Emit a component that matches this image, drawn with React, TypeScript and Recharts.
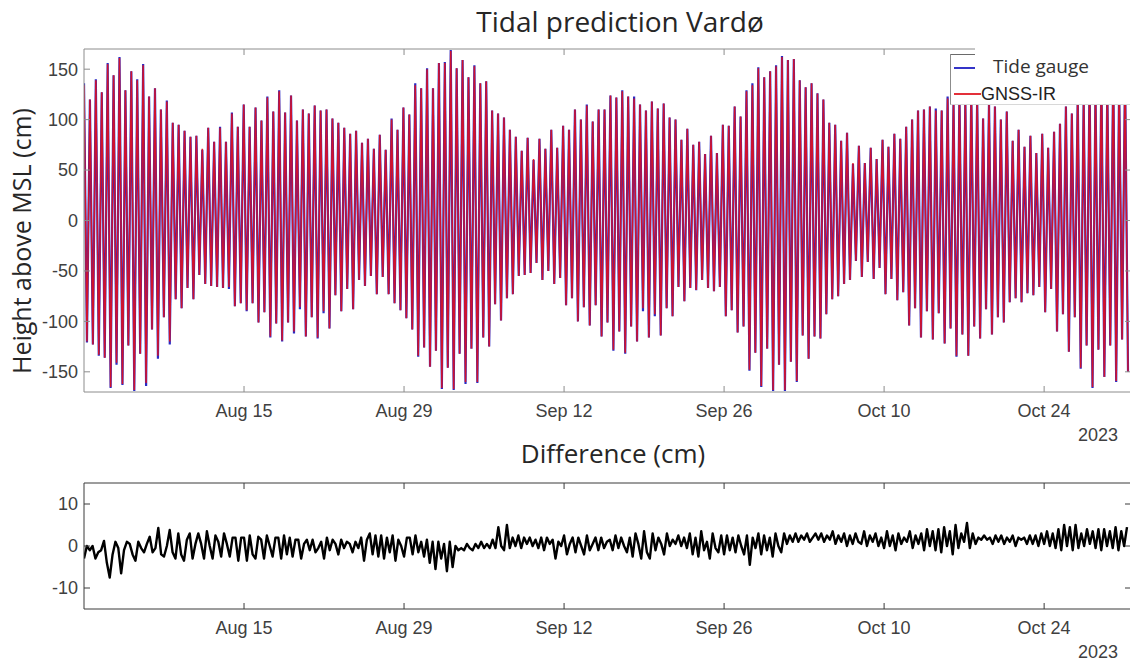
import { Legend, Line, LineChart, XAxis, YAxis } from 'recharts'

// time axis: days since 2023-08-01 00:00
const TIDE_STEP = 0.25875 // days between a high water and the following low water
const DIFF_STEP = 0.25 // difference series sampled every 6 h
const T_MAX = 91.6

const dateTicks = [14, 28, 42, 56, 70, 84]
const dateLabels = ['Aug 15', 'Aug 29', 'Sep 12', 'Sep 26', 'Oct 10', 'Oct 24']
const heightTicks = [-150, -100, -50, 0, 50, 100, 150]
const diffTicks = [-10, 0, 10]

// high / low waters (cm), tide gauge
const tideHigh = [
  136, 120, 140, 127, 156, 144, 162, 129, 148, 140,
  155, 123, 131, 110, 119, 97, 95, 89, 83, 84,
  70, 92, 78, 93, 78, 107, 93, 115, 93, 112,
  99, 123, 108, 129, 107, 124, 99, 110, 106, 114,
  109, 110, 101, 97, 92, 86, 89, 77, 81, 71,
  85, 70, 101, 90, 112, 105, 136, 131, 151, 131,
  156, 157, 169, 151, 159, 142, 154, 136, 138, 109,
  106, 102, 90, 83, 69, 82, 60, 81, 71, 90,
  72, 94, 90, 110, 100, 115, 98, 110, 110, 124,
  122, 129, 123, 123, 115, 109, 118, 111, 116, 102,
  100, 80, 91, 75, 78, 66, 84, 67, 95, 94,
  113, 103, 129, 136, 152, 142, 148, 154, 163, 159,
  160, 139, 132, 136, 126, 120, 97, 95, 79, 87,
  56, 74, 57, 72, 61, 80, 73, 86, 81, 93,
  100, 109, 110, 113, 111, 109, 123, 118, 125, 120,
  128, 122, 101, 117, 113, 100, 108, 79, 90, 73,
  84, 67, 86, 72, 88, 96, 113, 106, 124, 120,
  138, 128, 145, 132, 150, 135, 148,
]
const tideLow = [
  -121, -123, -134, -136, -166, -143, -163, -124, -169, -132,
  -164, -108, -137, -96, -123, -78, -87, -67, -78, -54,
  -63, -65, -66, -67, -68, -85, -82, -90, -82, -101,
  -91, -116, -102, -120, -101, -112, -88, -115, -96, -117,
  -92, -107, -74, -90, -68, -88, -59, -65, -55, -73,
  -56, -73, -82, -89, -97, -108, -135, -126, -145, -129,
  -167, -146, -168, -132, -162, -127, -161, -116, -125, -83,
  -99, -77, -73, -55, -54, -52, -42, -59, -50, -63,
  -57, -84, -77, -100, -86, -104, -84, -115, -101, -129,
  -110, -132, -105, -120, -90, -116, -95, -114, -87, -95,
  -66, -80, -67, -69, -59, -67, -70, -66, -95, -89,
  -111, -105, -149, -131, -165, -127, -169, -143, -169, -140,
  -160, -114, -137, -115, -117, -93, -78, -75, -63, -59,
  -40, -56, -41, -58, -47, -73, -58, -79, -71, -104,
  -87, -116, -90, -118, -92, -122, -107, -135, -113, -134,
  -105, -117, -88, -113, -96, -101, -81, -77, -81, -72,
  -74, -66, -91, -68, -110, -93, -130, -96, -147, -124,
  -166, -128, -155, -124, -160, -118, -150,
]

// high / low waters (cm), GNSS-IR
const gnssHigh = [
  134, 120, 139, 127, 155, 144, 161, 129, 148, 139,
  154, 123, 131, 110, 118, 97, 95, 89, 83, 84,
  71, 92, 78, 92, 78, 106, 93, 115, 93, 112,
  99, 122, 108, 128, 107, 124, 99, 110, 106, 114,
  109, 110, 101, 97, 92, 86, 89, 77, 81, 71,
  85, 70, 100, 90, 112, 105, 134, 131, 150, 131,
  156, 156, 168, 151, 159, 142, 153, 136, 138, 109,
  106, 102, 90, 83, 69, 82, 61, 81, 71, 90,
  72, 94, 90, 110, 100, 114, 98, 110, 110, 124,
  122, 128, 123, 121, 115, 109, 118, 111, 116, 102,
  100, 80, 91, 75, 78, 66, 84, 67, 95, 94,
  113, 103, 128, 134, 151, 142, 148, 153, 162, 159,
  160, 139, 132, 136, 126, 120, 97, 95, 79, 87,
  57, 74, 57, 72, 61, 80, 73, 86, 81, 93,
  100, 109, 110, 113, 109, 109, 121, 118, 125, 120,
  128, 122, 101, 117, 113, 100, 108, 79, 90, 73,
  84, 67, 86, 72, 88, 96, 113, 106, 124, 120,
  138, 128, 145, 132, 150, 135, 148,
]
const gnssLow = [
  -120, -123, -133, -136, -165, -141, -162, -124, -168, -132,
  -161, -108, -134, -96, -120, -78, -87, -67, -78, -54,
  -63, -65, -66, -67, -66, -85, -82, -89, -82, -101,
  -91, -115, -102, -119, -101, -110, -86, -115, -96, -116,
  -90, -107, -74, -90, -68, -88, -59, -65, -55, -73,
  -56, -73, -82, -89, -97, -108, -134, -126, -145, -129,
  -166, -146, -167, -132, -160, -127, -160, -116, -125, -83,
  -99, -77, -73, -55, -54, -52, -42, -59, -50, -63,
  -57, -84, -77, -100, -86, -104, -84, -115, -101, -128,
  -110, -131, -105, -120, -87, -116, -93, -114, -87, -95,
  -66, -80, -67, -69, -59, -67, -70, -66, -95, -89,
  -111, -105, -148, -131, -164, -127, -168, -143, -168, -140,
  -159, -114, -137, -115, -117, -93, -78, -75, -63, -59,
  -40, -56, -41, -58, -47, -73, -58, -79, -71, -104,
  -87, -116, -90, -118, -92, -122, -107, -134, -113, -134,
  -105, -117, -88, -113, -96, -101, -81, -77, -81, -72,
  -74, -66, -91, -68, -110, -93, -130, -96, -146, -124,
  -165, -128, -155, -124, -159, -118, -150,
]

// GNSS-IR minus tide gauge (cm), 4 samples per day
const difference = [
  -3, 0, -1, 0, -3, -1.5, -1, 1.2, -4, -7.5, -2, 1, -0.5, -6.5, -1, 1,
  0.5, -2, -3.5, 1, -0.5, -1.5, 0.5, 2.2, -1.5, -0.5, 4.3, -2, -2.5, 0, 3.8, -1.5,
  -3, 3, -2, -3.5, 1.5, 3, -3, 0.5, 3, 0.5, -3, 3.5, 0, -3, 2.5, 1,
  -2.5, 3, 0.5, -2.5, 2, 2, -3.5, 2, 2, -3.5, 2.5, -2, -3, 2.2, 1.5, -3,
  2.5, 0, -2.5, 2, 2, -3, 2.5, -2, 2, -2.5, 1.5, 1.5, -3, 0.5, 1.5, -1,
  1.5, -1.5, -0.5, 1, -3, 2, -1, 1.5, 0.5, -2, 1.5, -0.5, 1, 0.5, -1.5, 1,
  -0.5, 2, -3.5, 1.5, 3, -2, 2.5, -2.5, 2.5, -3, 2, -1.5, 2.5, -3.5, 1.5, 0,
  -2.5, 2, 2, -2, 2.5, -1.5, 1, -2.5, 1.5, -4, 1, -5.5, 1, -3, 0.5, -6,
  1, -5, 0, -1, -0.5, -1, 0.5, -0.5, -1, 0.5, -0.5, 1, -0.5, 0.5, -0.5, 1.5,
  -0.5, 4.5, 0, -1, 5, -0.5, 2, 0, 2.5, -0.5, 2, 0.5, 2, 0, 1.5, -0.5,
  2, -1, 2, 0.5, 1.5, -3, 1, 0, 2.5, -2, 0.5, 2, -1.5, 2, 0, -2,
  2.5, -1, 0.5, 2, -1, 2, -0.5, 1, 1.5, -1, 2.5, -0.5, 2, 0, -1.5, 2,
  -2.5, 3, 0.5, -3, 3.5, -1.5, -3, 3, -1, 2, 0.5, -2, 3, 0, 1.5, 0.5,
  2.5, 0, 2, -0.5, 3, -2, 2, -2.5, 3.5, -1, 1, -3, 3, -0.5, -1.5, 2.5,
  -2, 2.5, -1, 2, -1.5, 2.5, 0, -2, 2.5, -4.5, 2, -0.5, 3, -2, 2.5, -1,
  2, -2.5, 3, 0, -1.5, 3, 0.5, 2.5, 1, 3, 1, 2.5, 1.5, 3, 1, 2,
  3, 1.5, 3, 1, 2.5, 1.5, 3.5, 0.5, 2.5, 1, 3, 0, 2.5, 0.5, 3, 1,
  0.5, 3.5, 0, 2.5, 1, 3, 0, 2, -0.5, 3.5, 0, 2.5, -1, 3, 0.5, 2,
  1, 3.5, -0.5, 2.5, 0.5, 3, -1, 4, 0, 3.5, -1, 4, -1.5, 4.5, 0, 3.5,
  -2, 5, -0.5, 3, 1, 5.5, -0.5, 3, 0.5, 2, 1.5, 2.5, 1.5, 2, 0.5, 2.5,
  1, 2.5, 0.5, 2, 1, 2.5, 0, 2, 1.5, 2, 0.5, 2.5, 0.5, 2.5, 0, 3,
  0.5, 3.5, 0, 3, -0.5, 4, -1, 5, 0, 4.5, -1, 5, -0.5, 3, 0, 4,
  0.5, 3.5, -0.5, 4, -1, 4, 0, 3.5, -0.5, 4.5, -1, 3.5, 0, 4.5,
]

const tideData = tideHigh.flatMap((high, k) => [
  { t: 2 * k * TIDE_STEP, tide: high, gnss: gnssHigh[k] },
  { t: (2 * k + 1) * TIDE_STEP, tide: tideLow[k], gnss: gnssLow[k] },
])
const diffData = difference.map((d, i) => ({ t: i * DIFF_STEP, diff: d }))

const fmtDate = (v: number) => dateLabels[dateTicks.indexOf(v)] ?? ''
const blank = () => ''

const ARIAL = '"Liberation Sans", Arial, sans-serif'
const OPEN = '"Open Sans", sans-serif'
const tickFont = { fontFamily: ARIAL, fontSize: 18, fill: '#404040' }

function TideLegend() {
  return (
    <div
      style={{
        position: 'relative',
        width: 181,
        height: 51,
        background: '#fff',
        borderLeft: '1px solid #8c8c8c',
        borderBottom: '1px solid #d8d8d8',
        boxSizing: 'border-box',
      }}
    >
      <div style={{ position: 'absolute', left: 0, top: 0, width: 24, height: 1, background: '#6a6a6a' }} />
      <div style={{ position: 'absolute', left: 24, top: -12, width: 160, height: 12, background: '#fff' }} />
      <div style={{ position: 'absolute', left: 3, top: 13, width: 21, height: 2, background: '#3434c8' }} />
      <span style={{ position: 'absolute', left: 42, top: -1, font: `19px/26px ${OPEN}`, color: '#333', whiteSpace: 'nowrap' }}>
        Tide gauge
      </span>
      <div style={{ position: 'absolute', left: 3, top: 39, width: 27, height: 2, background: '#e3303a' }} />
      <span style={{ position: 'absolute', left: 30, top: 30, font: `18px/21px ${ARIAL}`, color: '#222', whiteSpace: 'nowrap' }}>
        GNSS-IR
      </span>
    </div>
  )
}

const abs = (left: number, top: number, extra: object = {}) => ({ position: 'absolute' as const, left, top, ...extra })

// frame axes: bottom/left carry the labels, top/right only inward ticks (box on)
function frameAxes(yDomain: number[], yTicks: number[], color: string) {
  return [
    <XAxis
      key='xb'
      xAxisId='b'
      dataKey='t'
      type='number'
      domain={[0, T_MAX]}
      allowDataOverflow
      ticks={dateTicks}
      interval={0}
      tickFormatter={fmtDate}
      height={30}
      tickSize={-6}
      tickMargin={18}
      stroke={color}
      tick={tickFont}
    />,
    <XAxis
      key='xt'
      xAxisId='top'
      orientation='top'
      dataKey='t'
      type='number'
      domain={[0, T_MAX]}
      allowDataOverflow
      ticks={dateTicks}
      interval={0}
      tickFormatter={blank}
      height={1}
      tickSize={-6}
      stroke={color}
    />,
    <YAxis
      key='yl'
      yAxisId='l'
      type='number'
      domain={yDomain}
      allowDataOverflow
      ticks={yTicks}
      interval={0}
      width={60}
      tickSize={-6}
      tickMargin={12}
      stroke={color}
      tick={tickFont}
    />,
    <YAxis
      key='yr'
      yAxisId='r'
      orientation='right'
      type='number'
      domain={yDomain}
      allowDataOverflow
      ticks={yTicks}
      interval={0}
      tickFormatter={blank}
      width={1}
      tickSize={-6}
      stroke={color}
    />,
  ]
}

export default function App() {
  return (
    <div style={{ position: 'absolute', left: 0, top: 0, width: 1130, height: 661, overflow: 'hidden', background: '#fff' }}>
      <div style={abs(620, 7, { transform: 'translateX(-50%)', font: `28px/28px ${OPEN}`, color: '#262626', whiteSpace: 'nowrap' })}>
        Tidal prediction Vardø
      </div>
      <div
        style={abs(21 - 200, 241 - 15, {
          width: 400,
          height: 30,
          textAlign: 'center',
          transform: 'rotate(-90deg)',
          font: `25px/30px ${OPEN}`,
          color: '#262626',
          whiteSpace: 'nowrap',
        })}
      >
        Height above MSL (cm)
      </div>

      <div style={abs(0, 0)}>
        <LineChart width={1140} height={440} data={tideData} margin={{ top: 48, right: 8, bottom: 18, left: 24 }}>
          {frameAxes([-170, 170], heightTicks, '#8c8c8c')}
          <Line
            xAxisId='b'
            yAxisId='l'
            dataKey='tide'
            name='Tide gauge'
            type='linear'
            stroke='#2a2ac4'
            strokeWidth={2.2}
            dot={false}
            isAnimationActive={false}
          />
          <Line
            xAxisId='top'
            yAxisId='r'
            dataKey='gnss'
            name='GNSS-IR'
            type='linear'
            stroke='#e2101e'
            strokeOpacity={0.9}
            strokeWidth={1.5}
            dot={false}
            isAnimationActive={false}
          />
          <Legend
            layout='horizontal'
            verticalAlign='middle'
            align='center'
            content={() => <TideLegend />}
            wrapperStyle={{ left: 950, top: 54, width: 181, height: 51 }}
          />
        </LineChart>
      </div>
      <div style={abs(1098, 435, { transform: 'translate(-50%, -50%)', font: `18px/20px ${ARIAL}`, color: '#404040' })}>2023</div>

      <div style={abs(613, 440, { transform: 'translateX(-50%)', font: `26px/26px ${OPEN}`, color: '#262626', whiteSpace: 'nowrap' })}>
        Difference (cm)
      </div>

      <div style={abs(0, 470)}>
        <LineChart width={1140} height={190} data={diffData} margin={{ top: 12, right: 8, bottom: 21, left: 24 }}>
          {frameAxes([-15, 15], diffTicks, '#3a3a3a')}
          <Line
            xAxisId='b'
            yAxisId='l'
            dataKey='diff'
            type='linear'
            stroke='#000'
            strokeWidth={2.4}
            strokeLinejoin='round'
            dot={false}
            isAnimationActive={false}
          />
        </LineChart>
      </div>
      <div style={abs(1098, 652, { transform: 'translate(-50%, -50%)', font: `18px/20px ${ARIAL}`, color: '#404040' })}>2023</div>
    </div>
  )
}
